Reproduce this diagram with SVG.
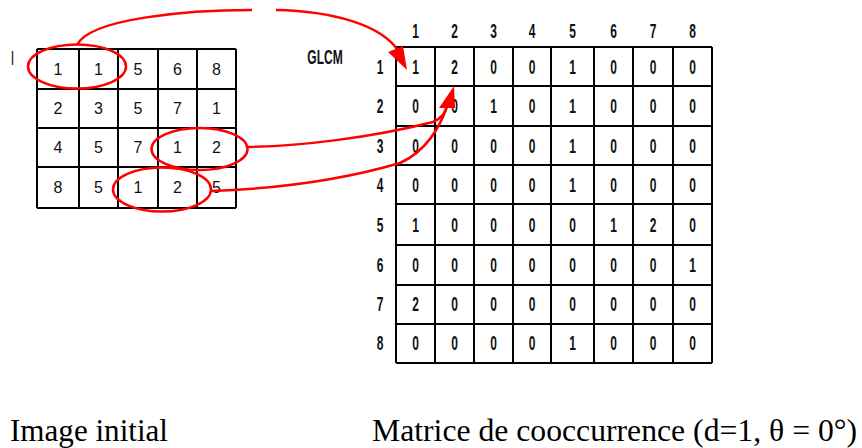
<svg xmlns="http://www.w3.org/2000/svg" width="862" height="448" viewBox="0 0 862 448">
<style>
.grid{stroke:#000;stroke-width:2;fill:none}
.a{font-family:"Liberation Sans",Arial,sans-serif;font-size:16px;text-anchor:middle;fill:#111}
.g{font-family:"Liberation Sans",Arial,sans-serif;font-weight:bold;font-size:20px;text-anchor:middle;fill:#111}
.cap{font-family:"Liberation Serif","Times New Roman",serif;font-size:31px;fill:#000}
.red{stroke:#f00;stroke-width:2.5;fill:none}
.head{fill:#f00}
</style>
<rect width="862" height="448" fill="#fff"/>

<g id="image-matrix">
<text class="g" transform="scale(0.6,1)" x="21" y="65" style="font-weight:normal;font-size:21px">I</text>
<path class="grid" d="M37,49H236M37,89H236M37,128H236M37,167H236M37,208H236M37,49V208M79,49V208M118,49V208M158,49V208M197,49V208M236,49V208"/>
<g class="a">
<text x="58" y="75">1</text><text x="98.5" y="75">1</text><text x="138" y="75">5</text><text x="177.5" y="75">6</text><text x="216.5" y="75">8</text>
<text x="58" y="114">2</text><text x="98.5" y="114">3</text><text x="138" y="114">5</text><text x="177.5" y="114">7</text><text x="216.5" y="114">1</text>
<text x="58" y="153">4</text><text x="98.5" y="153">5</text><text x="138" y="153">7</text><text x="177.5" y="153">1</text><text x="216.5" y="153">2</text>
<text x="58" y="193">8</text><text x="98.5" y="193">5</text><text x="138" y="193">1</text><text x="177.5" y="193">2</text><text x="216.5" y="193">5</text>
</g>
</g>

<g id="glcm-label">
<text class="g" transform="scale(0.6,1)" x="541.7" y="64">GLCM</text>
</g>

<g id="glcm-matrix">
<path class="grid" d="M396,47H712M396,86H712M396,126H712M396,165H712M396,204H712M396,245H712M396,285H712M396,324H712M396,363H712M396,47V363M435,47V363M474,47V363M513,47V363M551,47V363M594,47V363M633,47V363M673,47V363M712,47V363"/>
<g class="g" transform="scale(0.6,1)">
<text x="692.5" y="38">1</text><text x="757.5" y="38">2</text><text x="822.5" y="38">3</text><text x="886.7" y="38">4</text><text x="954.2" y="38">5</text><text x="1022.5" y="38">6</text><text x="1088.3" y="38">7</text><text x="1154.2" y="38">8</text>
<text x="633.3" y="74">1</text><text x="633.3" y="113">2</text><text x="633.3" y="153">3</text><text x="633.3" y="192">4</text><text x="633.3" y="232">5</text><text x="633.3" y="272">6</text><text x="633.3" y="311">7</text><text x="633.3" y="350">8</text>
<text x="692.5" y="74">1</text><text x="757.5" y="74">2</text><text x="822.5" y="74">0</text><text x="886.7" y="74">0</text><text x="954.2" y="74">1</text><text x="1022.5" y="74">0</text><text x="1088.3" y="74">0</text><text x="1154.2" y="74">0</text>
<text x="692.5" y="113">0</text><text x="757.5" y="113">0</text><text x="822.5" y="113">1</text><text x="886.7" y="113">0</text><text x="954.2" y="113">1</text><text x="1022.5" y="113">0</text><text x="1088.3" y="113">0</text><text x="1154.2" y="113">0</text>
<text x="692.5" y="153">0</text><text x="757.5" y="153">0</text><text x="822.5" y="153">0</text><text x="886.7" y="153">0</text><text x="954.2" y="153">1</text><text x="1022.5" y="153">0</text><text x="1088.3" y="153">0</text><text x="1154.2" y="153">0</text>
<text x="692.5" y="192">0</text><text x="757.5" y="192">0</text><text x="822.5" y="192">0</text><text x="886.7" y="192">0</text><text x="954.2" y="192">1</text><text x="1022.5" y="192">0</text><text x="1088.3" y="192">0</text><text x="1154.2" y="192">0</text>
<text x="692.5" y="232">1</text><text x="757.5" y="232">0</text><text x="822.5" y="232">0</text><text x="886.7" y="232">0</text><text x="954.2" y="232">0</text><text x="1022.5" y="232">1</text><text x="1088.3" y="232">2</text><text x="1154.2" y="232">0</text>
<text x="692.5" y="272">0</text><text x="757.5" y="272">0</text><text x="822.5" y="272">0</text><text x="886.7" y="272">0</text><text x="954.2" y="272">0</text><text x="1022.5" y="272">0</text><text x="1088.3" y="272">0</text><text x="1154.2" y="272">1</text>
<text x="692.5" y="311">2</text><text x="757.5" y="311">0</text><text x="822.5" y="311">0</text><text x="886.7" y="311">0</text><text x="954.2" y="311">0</text><text x="1022.5" y="311">0</text><text x="1088.3" y="311">0</text><text x="1154.2" y="311">0</text>
<text x="692.5" y="350">0</text><text x="757.5" y="350">0</text><text x="822.5" y="350">0</text><text x="886.7" y="350">0</text><text x="954.2" y="350">1</text><text x="1022.5" y="350">0</text><text x="1088.3" y="350">0</text><text x="1154.2" y="350">0</text>
</g>
</g>

<g id="highlights">
<ellipse class="red" cx="77" cy="66.5" rx="49" ry="22"/>
<ellipse class="red" cx="199.5" cy="149" rx="48" ry="21"/>
<ellipse class="red" cx="162" cy="189.5" rx="49" ry="22"/>
</g>

<g id="connectors">
<path class="red" d="M77,45C90,18 190,10 252,10"/>
<path class="red" d="M276,10C330,11 382,24 399,52"/>
<polygon class="head" points="388,52 403,46 407,70"/>
<path class="red" d="M248,147C300,146 370,138 433,122C442,118 446,112 447,106"/>
<path class="red" d="M211,191C270,189 335,182 400,163C425,152 440,128 447,106"/>
<polygon class="head" points="439,108 454,86 455,108"/>
</g>

<g id="captions">
<text class="cap" x="10" y="441" textLength="158" lengthAdjust="spacingAndGlyphs">Image initial</text>
<text class="cap" x="372" y="441" textLength="485" lengthAdjust="spacingAndGlyphs">Matrice de cooccurrence (d=1, θ = 0°)</text>
</g>
</svg>
